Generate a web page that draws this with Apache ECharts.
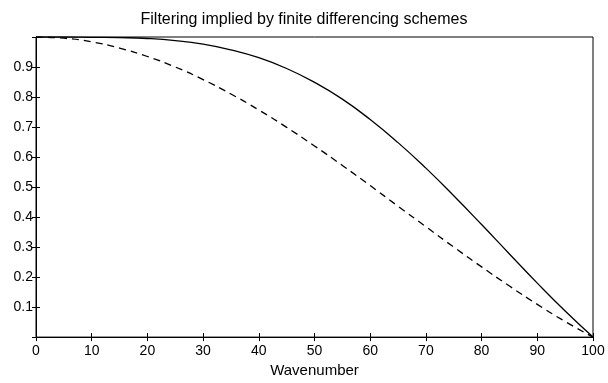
<!DOCTYPE html>
<html>
<head>
<meta charset="utf-8">
<script src="https://cdn.jsdelivr.net/npm/echarts@6/dist/echarts.min.js"></script>
<style>
  html, body { margin: 0; padding: 0; background: #fff; }
  #chart { width: 608px; height: 383px; }
</style>
</head>
<body>
<div id="chart"></div>
<script>
// wavenumber samples, read every 5 units
var wavenumber = [0, 5, 10, 15, 20, 25, 30, 35, 40, 45, 50, 55, 60, 65, 70, 75, 80, 85, 90, 95, 100];
// solid curve (higher order scheme)
var solidVals = [1.000, 1.000, 0.999, 0.998, 0.995, 0.988, 0.976, 0.957, 0.931, 0.895, 0.849,
                 0.793, 0.725, 0.648, 0.563, 0.471, 0.375, 0.277, 0.180, 0.087, 0.000];
// dashed curve (second order scheme)
var dashedVals = [1.000, 0.996, 0.984, 0.963, 0.935, 0.900, 0.858, 0.810, 0.757, 0.699, 0.637,
                  0.572, 0.505, 0.436, 0.368, 0.300, 0.234, 0.170, 0.109, 0.052, 0.000];

function pairs(xs, ys) {
  var out = [];
  for (var i = 0; i < xs.length; i++) out.push([xs[i], ys[i]]);
  return out;
}

var font = 'Liberation Sans, Arial, sans-serif';
var chart = echarts.init(document.getElementById('chart'));

var option = {
  animation: false,
  title: {
    text: 'Filtering implied by finite differencing schemes',
    left: 'center',
    top: 12,
    padding: 0,
    textStyle: { fontFamily: font, fontSize: 16, fontWeight: 'normal', color: '#000' }
  },
  grid: { left: 36, right: 15, top: 37, bottom: 36, show: true, borderColor: '#000', borderWidth: 1 },
  xAxis: [
    {
      type: 'value', min: 0, max: 100, interval: 10,
      name: 'Wavenumber', nameLocation: 'middle', nameGap: 22,
      nameTextStyle: { fontFamily: font, fontSize: 15, color: '#000' },
      axisLine: { lineStyle: { color: '#000', width: 1 } },
      axisTick: { inside: true, length: 4, lineStyle: { color: '#000' } },
      axisLabel: { margin: 7, fontFamily: font, fontSize: 14, color: '#000' },
      splitLine: { show: false }
    },
    {
      type: 'value', min: 0, max: 100, interval: 10, position: 'top',
      axisLine: { lineStyle: { color: '#000', width: 1 } },
      axisTick: { inside: true, length: 4, lineStyle: { color: '#000' } },
      axisLabel: { show: false },
      splitLine: { show: false }
    }
  ],
  yAxis: [
    {
      type: 'value', min: 0, max: 1, interval: 0.1,
      axisLine: { show: true, lineStyle: { color: '#000', width: 1 } },
      axisTick: { show: true, inside: true, length: 4, lineStyle: { color: '#000' } },
      axisLabel: {
        margin: 3, fontFamily: font, fontSize: 14, color: '#000',
        formatter: function (v) {
          if (v <= 0.001 || v >= 0.999) return '';
          return v.toFixed(1);
        }
      },
      splitLine: { show: false }
    },
    {
      type: 'value', min: 0, max: 1, interval: 0.1, position: 'right',
      axisLine: { show: true, lineStyle: { color: '#000', width: 1 } },
      axisTick: { show: true, inside: true, length: 4, lineStyle: { color: '#000' } },
      axisLabel: { show: false },
      splitLine: { show: false }
    }
  ],
  series: [
    {
      type: 'line', smooth: true, symbol: 'none',
      data: pairs(wavenumber, solidVals),
      lineStyle: { color: '#000', width: 1.3, type: 'solid' }
    },
    {
      type: 'line', smooth: true, symbol: 'none',
      data: pairs(wavenumber, dashedVals),
      lineStyle: { color: '#000', width: 1.3, type: [7, 5] }
    }
  ]
};

chart.setOption(option);
</script>
</body>
</html>
